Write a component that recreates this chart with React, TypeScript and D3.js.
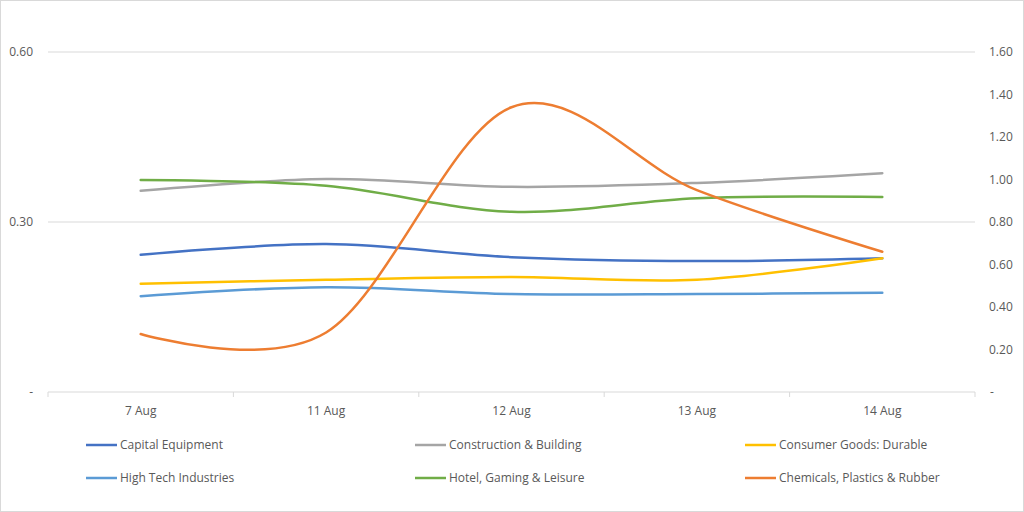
import React from "react";
import * as d3 from "d3";

const categories = ["7 Aug", "11 Aug", "12 Aug", "13 Aug", "14 Aug"];

const capitalEquipment = [0.242, 0.261, 0.238, 0.231, 0.236];
const construction = [0.355, 0.376, 0.362, 0.369, 0.386];
const consumerDurable = [0.191, 0.198, 0.203, 0.198, 0.236];
const highTech = [0.169, 0.185, 0.173, 0.173, 0.175];
const hotelGaming = [0.374, 0.364, 0.318, 0.342, 0.344];
// plotted against the right-hand axis
const chemicals = [0.273, 0.28, 1.34, 0.95, 0.66];

const leftTicks = [0, 0.3, 0.6];
const rightTicks = [0, 0.2, 0.4, 0.6, 0.8, 1.0, 1.2, 1.4, 1.6];

const series = [
  { label: "Capital Equipment", color: "#4472C4", values: capitalEquipment, axis: "left" },
  { label: "Construction & Building", color: "#A5A5A5", values: construction, axis: "left" },
  { label: "Consumer Goods: Durable", color: "#FFC000", values: consumerDurable, axis: "left" },
  { label: "High Tech Industries", color: "#5B9BD5", values: highTech, axis: "left" },
  { label: "Hotel, Gaming & Leisure", color: "#70AD47", values: hotelGaming, axis: "left" },
  { label: "Chemicals, Plastics & Rubber", color: "#ED7D31", values: chemicals, axis: "right" },
];

const W = 1024;
const H = 512;
const plot = { left: 48, right: 975, top: 52, bottom: 392 };
const font = "'Open Sans', 'Noto Sans', sans-serif";
const textColor = "#595959";

export default function App() {
  const x = d3.scaleBand<string>().domain(categories).range([plot.left, plot.right]);
  const yL = d3.scaleLinear().domain([0, 0.6]).range([plot.bottom, plot.top]);
  const yR = d3.scaleLinear().domain([0, 1.6]).range([plot.bottom, plot.top]);
  const fmt = (v: number) => (v === 0 ? "-" : d3.format(".2f")(v));

  const lineFor = (scale: d3.ScaleLinear<number, number>) =>
    d3.line<number>()
      .x((_, i) => (x(categories[i]) ?? 0) + x.bandwidth() / 2)
      .y(d => scale(d))
      .curve(d3.curveCardinal.tension(0));

  const boundaries = [...categories.map(c => x(c) ?? 0), plot.right];
  const legendCols = [86, 415, 745];
  const legendRows = [445, 478];

  return (
    <div style={{ position: "absolute", left: 0, top: 0 }}>
      <svg width={W} height={H} style={{ display: "block", fontFamily: font }}>
        <rect x={0.5} y={0.5} width={W - 1} height={H - 1} fill="#fff" stroke="#d9d9d9" />

        {/* gridlines */}
        {leftTicks.filter(t => t > 0).map(t => (
          <line key={t} x1={plot.left} x2={plot.right} y1={yL(t)} y2={yL(t)} stroke="#d9d9d9" strokeWidth={1} />
        ))}

        {/* x axis */}
        <line x1={plot.left} x2={plot.right} y1={plot.bottom} y2={plot.bottom} stroke="#d9d9d9" />
        {boundaries.map((b, i) => (
          <line key={i} x1={b} x2={b} y1={plot.bottom} y2={plot.bottom + 5} stroke="#d9d9d9" />
        ))}
        {categories.map(c => (
          <text key={c} x={(x(c) ?? 0) + x.bandwidth() / 2} y={plot.bottom + 23}
            textAnchor="middle" fontSize={12} fill={textColor}>{c}</text>
        ))}

        {/* left axis labels */}
        {leftTicks.map(t => (
          <text key={t} x={33} y={yL(t) + 4} textAnchor="end" fontSize={12} fill={textColor}>{fmt(t)}</text>
        ))}
        {/* right axis labels */}
        {rightTicks.map(t => (
          <text key={t} x={t === 0 ? 990 : 989} y={yR(t) + 4} textAnchor="start" fontSize={12} fill={textColor}>{fmt(t)}</text>
        ))}

        {/* series */}
        {series.map(s => (
          <path key={s.label} d={lineFor(s.axis === "left" ? yL : yR)(s.values) ?? ""}
            fill="none" stroke={s.color} strokeWidth={2.5} strokeLinecap="round" />
        ))}

        {/* legend */}
        {series.map((s, i) => {
          const lx = legendCols[i % 3];
          const ly = legendRows[Math.floor(i / 3)];
          return (
            <g key={s.label}>
              <line x1={lx} x2={lx + 31} y1={ly} y2={ly} stroke={s.color} strokeWidth={2.5} />
              <text x={lx + 34} y={ly + 4} fontSize={12} fill={textColor}>{s.label}</text>
            </g>
          );
        })}
      </svg>
    </div>
  );
}
